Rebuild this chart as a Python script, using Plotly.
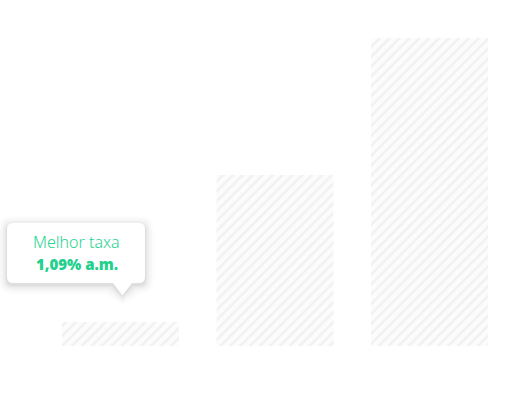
import plotly.graph_objects as go

categories = ["A", "B", "C"]
values = [1.09, 7.77, 14.0]
tooltip_title = "Melhor taxa"
tooltip_value = "1,09% a.m."

W, H = 516, 403
plot_left, plot_right, plot_top, plot_bottom = 43.25, 506.75, 38, 346

def px(x):
    return x / W

def py(y):
    return 1 - y / H

fig = go.Figure()
fig.add_trace(go.Bar(
    x=categories, y=values,
    marker=dict(
        color="#ffffff",
        line=dict(width=0),
        pattern=dict(shape="/", fgcolor="#f1f1f1", bgcolor="#fcfcfc", size=7, solidity=0.35, fillmode="replace"),
    ),
    hoverinfo="skip",
))

def rounded_path(x0, y0, x1, y1, r, tip=None):
    p = f"M {px(x0 + r)},{py(y0)} L {px(x1 - r)},{py(y0)} "
    p += f"Q {px(x1)},{py(y0)} {px(x1)},{py(y0 + r)} "
    p += f"L {px(x1)},{py(y1 - r)} "
    p += f"Q {px(x1)},{py(y1)} {px(x1 - r)},{py(y1)} "
    if tip:
        bx0, bx1, tx, ty = tip
        p += f"L {px(bx1)},{py(y1)} L {px(tx)},{py(ty)} L {px(bx0)},{py(y1)} "
    p += f"L {px(x0 + r)},{py(y1)} "
    p += f"Q {px(x0)},{py(y1)} {px(x0)},{py(y1 - r)} "
    p += f"L {px(x0)},{py(y0 + r)} "
    p += f"Q {px(x0)},{py(y0)} {px(x0 + r)},{py(y0)} Z"
    return p

shapes = []
for i, op in [(9, 0.010), (7, 0.014), (5, 0.018), (3.5, 0.022), (2, 0.026), (1, 0.03)]:
    shapes.append(dict(
        type="path", xref="paper", yref="paper",
        path=rounded_path(7 - i, 223 - i + 2, 145 + i, 283 + i + 2, 6 + i, tip=(113 - i, 132 + i, 122.5, 296 + i)),
        fillcolor=f"rgba(0,0,0,{op})", line=dict(width=0), layer="above",
    ))
shapes.append(dict(
    type="path", xref="paper", yref="paper",
    path=rounded_path(7, 223, 145, 283, 6, tip=(113, 132, 122.5, 295.5)),
    fillcolor="#ffffff", line=dict(width=0), layer="above",
))

fig.update_layout(
    width=W, height=H,
    margin=dict(l=0, r=0, t=0, b=0),
    paper_bgcolor="#ffffff", plot_bgcolor="#ffffff",
    showlegend=False,
    bargap=0.243,
    xaxis=dict(domain=[plot_left / W, plot_right / W], visible=False, showgrid=False, zeroline=False),
    yaxis=dict(domain=[1 - plot_bottom / H, 1 - plot_top / H], range=[0, max(values)], visible=False, showgrid=False, zeroline=False),
    shapes=shapes,
    annotations=[
        dict(xref="paper", yref="paper", x=px(76.5), y=py(242.5), text=tooltip_title, showarrow=False,
             font=dict(family="Noto Sans", size=16, color="#27d392", weight=300), xanchor="center", yanchor="middle"),
        dict(xref="paper", yref="paper", x=px(76.5), y=py(263.5), text=tooltip_value, showarrow=False,
             font=dict(family="Noto Sans", size=15, color="#22cf8c", weight=900), xanchor="center", yanchor="middle"),
    ],
)

fig.write_html("out.html")
